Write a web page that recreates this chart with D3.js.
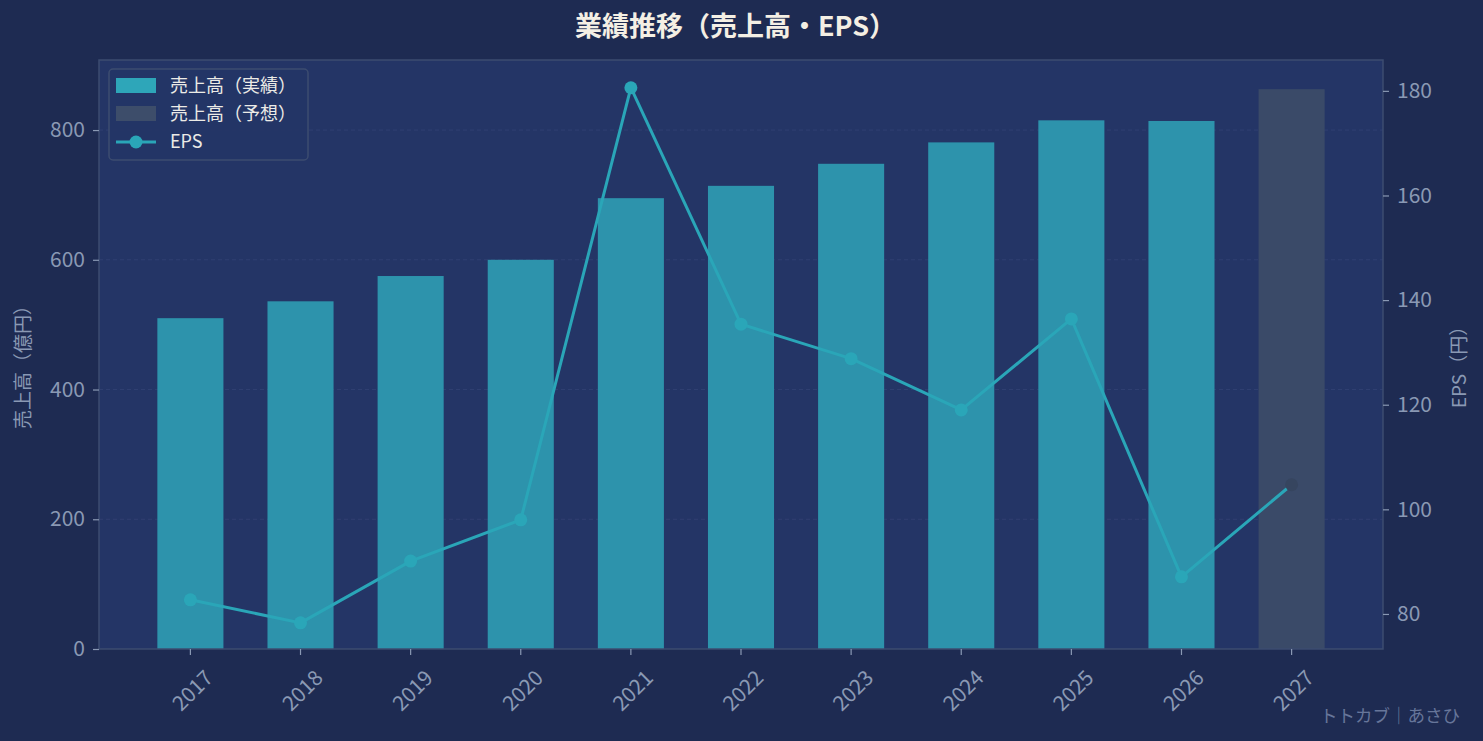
<!DOCTYPE html>
<html>
<head>
<meta charset="utf-8">
<script src="https://cdn.jsdelivr.net/npm/d3@7"></script>
<style>
  body { margin: 0; background: #1e2b52; }
  text { font-family: "Noto Sans CJK JP", "Noto Sans", sans-serif; }
</style>
</head>
<body>
<div id="chart"></div>
<script>
/* DATA */
const years = ["2017", "2018", "2019", "2020", "2021", "2022", "2023", "2024", "2025", "2026", "2027"];
const sales = [510, 536, 575, 600, 695, 714, 748, 781, 815, 814, 863];
const forecast = [false, false, false, false, false, false, false, false, false, false, true];
const eps = [82.7, 78.3, 90.1, 98.0, 180.6, 135.4, 128.8, 119.0, 136.4, 87.1, 104.7];
const salesTicks = [0, 200, 400, 600, 800];
const epsTicks = [80, 100, 120, 140, 160, 180];

/* CONSTANTS */
const width = 1483,
  height = 741,
  margin = { top: 60, bottom: 92, left: 99, right: 100 };

const colors = {
  bg: "#1e2b52",
  plot: "#243566",
  bar: "#2d93ac",
  barLegend: "#2ea6b9",
  forecast: "#3a4a68",
  line: "#2aa6b8",
  tick: "#8a99b4",
  spine: "#3c4c70",
  grid: "#303f72"
};

const svg = d3.select("#chart")
  .append("svg")
  .attr("width", width)
  .attr("height", height);

svg.append("rect")
  .attr("width", width)
  .attr("height", height)
  .attr("fill", colors.bg);

// scales
const x = d3.scaleBand()
  .domain(years)
  .range([margin.left, width - margin.right])
  .paddingInner(0.4)
  .paddingOuter(0.53);

const yLeft = d3.scaleLinear()
  .domain([0, 908])
  .range([height - margin.bottom, margin.top]);

const yRight = d3.scaleLinear()
  .domain([73.3, 185.9])
  .range([height - margin.bottom, margin.top]);

// plot background
svg.append("rect")
  .attr("x", margin.left)
  .attr("y", margin.top)
  .attr("width", width - margin.left - margin.right)
  .attr("height", height - margin.top - margin.bottom)
  .attr("fill", colors.plot);

// grid
svg.append("g")
  .selectAll("line")
  .data(salesTicks.filter(d => d > 0))
  .join("line")
  .attr("x1", margin.left)
  .attr("x2", width - margin.right)
  .attr("y1", d => yLeft(d))
  .attr("y2", d => yLeft(d))
  .attr("stroke", colors.grid)
  .attr("stroke-width", 1)
  .attr("stroke-dasharray", "4,3");

// bars
svg.append("g")
  .selectAll("rect")
  .data(years)
  .join("rect")
  .attr("x", d => x(d))
  .attr("width", x.bandwidth())
  .attr("y", (d, i) => yLeft(sales[i]))
  .attr("height", (d, i) => yLeft(0) - yLeft(sales[i]))
  .attr("fill", (d, i) => forecast[i] ? colors.forecast : colors.bar);

// EPS line
const cx = d => x(d) + x.bandwidth() / 2;
const lineFunc = d3.line()
  .x(d => cx(d))
  .y((d, i) => yRight(eps[i]));

svg.append("path")
  .datum(years)
  .attr("d", lineFunc)
  .attr("fill", "none")
  .attr("stroke", colors.line)
  .attr("stroke-width", 3)
  .attr("stroke-linejoin", "round");

svg.append("g")
  .selectAll("circle")
  .data(years)
  .join("circle")
  .attr("cx", d => cx(d))
  .attr("cy", (d, i) => yRight(eps[i]))
  .attr("r", 6.5)
  .attr("fill", (d, i) => forecast[i] ? "#36455f" : colors.line);

// spines
svg.append("rect")
  .attr("x", margin.left)
  .attr("y", margin.top)
  .attr("width", width - margin.left - margin.right)
  .attr("height", height - margin.top - margin.bottom)
  .attr("fill", "none")
  .attr("stroke", colors.spine)
  .attr("stroke-width", 1.5);

// axes
function styleAxis(g) {
  g.select(".domain").remove();
  g.selectAll(".tick line").attr("stroke", colors.tick).attr("stroke-width", 1.2);
  g.selectAll(".tick text")
    .attr("fill", colors.tick)
    .style("font-size", "21px");
}

svg.append("g")
  .attr("transform", `translate(${margin.left},0)`)
  .call(d3.axisLeft(yLeft).tickValues(salesTicks).tickSize(6).tickPadding(8))
  .call(styleAxis);

svg.append("g")
  .attr("transform", `translate(${width - margin.right},0)`)
  .call(d3.axisRight(yRight).tickValues(epsTicks).tickSize(6).tickPadding(8))
  .call(styleAxis);

svg.append("g")
  .attr("transform", `translate(0,${height - margin.bottom})`)
  .call(d3.axisBottom(x).tickSize(6).tickPadding(8))
  .call(styleAxis)
  .selectAll(".tick text")
  .attr("text-anchor", "end")
  .attr("dx", "0.35em")
  .attr("dy", "0.85em")
  .attr("transform", "translate(-4,13) rotate(-45)");

// axis labels
svg.append("text")
  .attr("transform", `translate(30,${(margin.top + height - margin.bottom) / 2 + 8}) rotate(-90)`)
  .attr("text-anchor", "middle")
  .attr("fill", colors.tick)
  .style("font-size", "19px")
  .text("売上高（億円）");

svg.append("text")
  .attr("transform", `translate(1466,${(margin.top + height - margin.bottom) / 2 + 8}) rotate(-90)`)
  .attr("text-anchor", "middle")
  .attr("fill", colors.tick)
  .style("font-size", "19px")
  .text("EPS（円）");

// title
svg.append("text")
  .attr("x", width / 2 - 6)
  .attr("y", 36)
  .attr("text-anchor", "middle")
  .attr("fill", "#f4efe4")
  .style("font-size", "27px")
  .style("font-weight", "bold")
  .text("業績推移（売上高・EPS）");

// legend
const legend = svg.append("g").attr("transform", "translate(109,69)");
legend.append("rect")
  .attr("width", 199)
  .attr("height", 91)
  .attr("rx", 4)
  .attr("fill", colors.plot)
  .attr("fill-opacity", 0.9)
  .attr("stroke", colors.spine)
  .attr("stroke-width", 1.5);

const legendItems = [
  { label: "売上高（実績）", type: "bar", color: colors.barLegend },
  { label: "売上高（予想）", type: "bar", color: "#3d4d6a" },
  { label: "EPS", type: "line", color: colors.line }
];

const item = legend.selectAll("g.item")
  .data(legendItems)
  .join("g")
  .attr("class", "item")
  .attr("transform", (d, i) => `translate(7,${17 + i * 28})`);

item.filter(d => d.type === "bar")
  .append("rect")
  .attr("x", 0)
  .attr("y", -8)
  .attr("width", 40)
  .attr("height", 15)
  .attr("fill", d => d.color);

item.filter(d => d.type === "line")
  .append("line")
  .attr("x1", 0).attr("x2", 40)
  .attr("y1", 0).attr("y2", 0)
  .attr("stroke", d => d.color)
  .attr("stroke-width", 3);

item.filter(d => d.type === "line")
  .append("circle")
  .attr("cx", 20)
  .attr("cy", 0)
  .attr("r", 6.5)
  .attr("fill", d => d.color);

item.append("text")
  .attr("x", 54)
  .attr("y", 0)
  .attr("dy", "0.35em")
  .attr("fill", "#ecebe6")
  .style("font-size", "18px")
  .text(d => d.label);

// credit
svg.append("text")
  .attr("x", 1460)
  .attr("y", 722)
  .attr("text-anchor", "end")
  .attr("fill", "#67769a")
  .style("font-size", "17.5px")
  .text("トトカブ｜あさひ");
</script>
</body>
</html>
